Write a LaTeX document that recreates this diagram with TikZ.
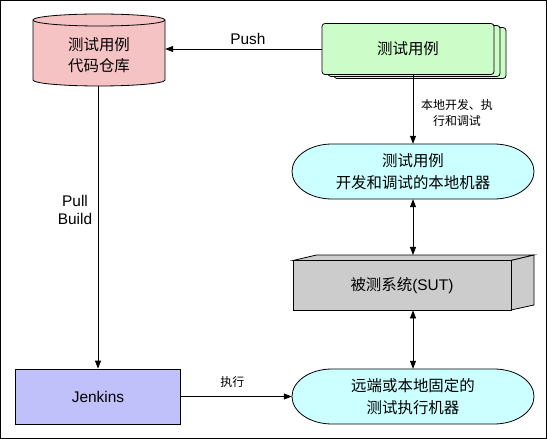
\documentclass[tikz,border=0pt]{standalone}
\usepackage{fontspec}
\setmainfont{Liberation Sans}
\newfontfamily\cj{Noto Sans CJK SC}
\usetikzlibrary{arrows.meta,shadows}
\definecolor{repofill}{RGB}{245,195,195}
\definecolor{tcfill}{RGB}{204,252,200}
\definecolor{machfill}{RGB}{204,255,255}
\definecolor{sutfill}{RGB}{204,204,204}
\definecolor{jkfill}{RGB}{192,192,250}
\begin{document}
\begin{tikzpicture}[x=1bp,y=-1bp,
  outline/.style={draw=black, line width=0.8bp},
  box/.style={outline, inner sep=0pt, align=center, font=\fontsize{15.5}{21.5}\selectfont},
  txt/.style={inner sep=0pt, align=center, font=\fontsize{15.5}{21.5}\selectfont},
  lbl/.style={inner sep=0pt, align=center, font=\fontsize{12}{16}\selectfont},
  conn/.style={line width=0.8bp, -{Triangle[length=8bp,width=6bp]}},
  bidir/.style={line width=0.8bp, {Triangle[length=8bp,width=6bp]}-{Triangle[length=8bp,width=6bp]}},
  ]
\useasboundingbox (0,0) rectangle (547,439);
\draw[line width=1.2bp] (0.8,0.8) rectangle (546.2,438.2);

% cylinder (repository)
\draw[outline, fill=repofill] (33,20) -- (33,80) .. controls (33,83.31) and (62.55,86) .. (99,86)
  .. controls (135.45,86) and (165,83.31) .. (165,80) -- (165,20)
  .. controls (165,16.69) and (135.45,14) .. (99,14)
  .. controls (62.55,14) and (33,16.69) .. (33,20) -- cycle;
\draw[outline] (33,20) .. controls (33,23.31) and (62.55,26) .. (99,26)
  .. controls (135.45,26) and (165,23.31) .. (165,20);
\node[txt, minimum width=132bp, minimum height=62bp] (repo) at (99,55) {\cj 测试用例\\\cj 代码仓库};

% test cases (stack)
\node[box, fill=tcfill, rounded corners=3bp, minimum width=172bp, minimum height=51bp,
  double copy shadow={shadow xshift=6bp, shadow yshift=-2bp, fill=tcfill, draw=black, line width=0.8bp}]
  (tc) at (408,49) {\cj 测试用例};

% local dev machine (stadium)
\draw[outline, fill=machfill] (332,144) -- (494,144) .. controls (516.1,144) and (534,156.3) .. (534,171.5)
  .. controls (534,186.7) and (516.1,199) .. (494,199) -- (332,199)
  .. controls (309.9,199) and (292,186.7) .. (292,171.5)
  .. controls (292,156.3) and (309.9,144) .. (332,144) -- cycle;
\node[txt, minimum width=242bp, minimum height=55bp] (dev) at (413,171.5) {\cj 测试用例\\\cj 开发和调试的本地机器};

% SUT (3D box)
\draw[outline, fill=sutfill] (293,260.5) -- (316.5,255) -- (534,255) -- (511,260.5) -- cycle;
\draw[outline, fill=sutfill] (511,260.5) -- (534,255) -- (534,305) -- (511,310) -- cycle;
\node[box, fill=sutfill, minimum width=218bp, minimum height=49.5bp] (sut) at (402,285.25) {{\cj 被测系统}(SUT)};
\coordinate (suttop) at (413,255);

% execution machine (stadium)
\draw[outline, fill=machfill] (332,369) -- (494,369) .. controls (516.1,369) and (534,381.3) .. (534,396.5)
  .. controls (534,411.7) and (516.1,424) .. (494,424) -- (332,424)
  .. controls (309.9,424) and (292,411.7) .. (292,396.5)
  .. controls (292,381.3) and (309.9,369) .. (332,369) -- cycle;
\node[txt, minimum width=242bp, minimum height=55bp] (exec) at (413,396.5) {\cj 远端或本地固定的\\\cj 测试执行机器};

% Jenkins
\node[box, fill=jkfill, minimum width=165bp, minimum height=55bp] (jk) at (98,396.5) {Jenkins};

% connectors
\draw[conn] (tc.west) -- (repo.east |- tc.west)
  node[midway, txt, xshift=4.5bp, yshift=10bp] {Push};
\draw[conn] (tc.south -| dev.north) -- (dev.north)
  node[midway, lbl, xshift=44bp, yshift=-4bp] {\cj 本地开发、执\\\cj 行和调试};
\draw[bidir] (dev.south) -- (suttop);
\draw[bidir] (exec.north |- sut.south) -- (exec.north);
\draw[conn] (repo.south -| jk.north) -- (jk.north)
  node[midway, txt, font=\fontsize{15.5}{18}\selectfont, xshift=-23bp, yshift=17.5bp] {Pull\\Build};
\draw[conn] (jk.east) -- (exec.west)
  node[midway, lbl, xshift=-4bp, yshift=14.5bp] {\cj 执行};
\end{tikzpicture}
\end{document}
